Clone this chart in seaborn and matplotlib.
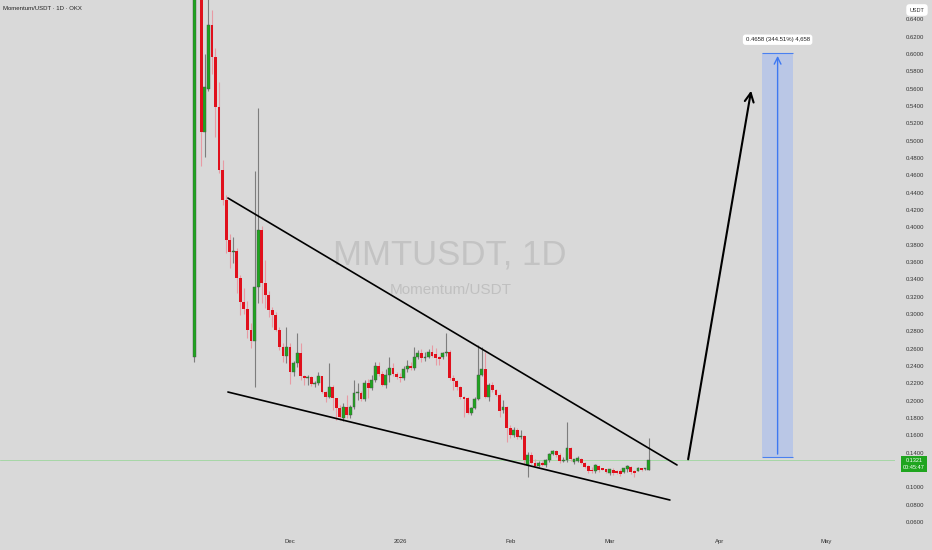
import pandas as pd
import matplotlib
matplotlib.use('Agg')
import matplotlib.pyplot as plt
import matplotlib.dates as mdates
from matplotlib.patches import Rectangle
import seaborn as sns

# daily candles, Nov 4 2025 -> Mar 12 2026 (MMT/USDT, OKX)
opens = [
    0.250, 0.950, 0.780, 0.510, 0.560, 0.634, 0.597, 0.539, 0.466, 0.432, 0.385, 0.371, 0.373, 0.341,
    0.314, 0.306, 0.281, 0.269, 0.331, 0.397, 0.336, 0.322, 0.305, 0.299, 0.281, 0.262, 0.251,
    # dec
    0.262, 0.233, 0.244, 0.255, 0.228, 0.2265, 0.227, 0.219, 0.220, 0.228, 0.2104, 0.2046, 0.2162, 0.2027,
    0.191, 0.180, 0.1927, 0.1835, 0.1927, 0.2085, 0.2092, 0.2016, 0.2207, 0.2143, 0.2239, 0.240, 0.2308,
    0.2181, 0.2296, 0.2374, 0.2308,
    # jan
    0.2277, 0.2262, 0.2362, 0.240, 0.2373, 0.250, 0.2554, 0.2489, 0.2508, 0.2565, 0.254, 0.250, 0.250,
    0.2546, 0.2565, 0.2258, 0.2224, 0.2161, 0.2039, 0.2027, 0.1854, 0.1912, 0.2016, 0.2296, 0.2362,
    0.2039, 0.2181, 0.2123, 0.2066, 0.1895, 0.193,
    # feb
    0.1681, 0.1604, 0.1662, 0.1577, 0.1592, 0.1258, 0.1373, 0.1277, 0.1246, 0.1277, 0.1262, 0.1315,
    0.1385, 0.1423, 0.1373, 0.1304, 0.1315, 0.145, 0.129, 0.1304, 0.1324, 0.1284, 0.1246, 0.120, 0.1192,
    0.1246, 0.1219, 0.1208,
    # mar
    0.1169, 0.120, 0.1192, 0.1192, 0.1181, 0.1208, 0.1235, 0.1192, 0.1192, 0.1219, 0.1208, 0.120,
]
highs = [
    1.050, 1.200, 0.820, 0.600, 0.680, 0.651, 0.607, 0.568, 0.478, 0.437, 0.392, 0.389, 0.376, 0.345,
    0.330, 0.315, 0.290, 0.465, 0.538, 0.402, 0.362, 0.327, 0.308, 0.302, 0.285, 0.267, 0.285,
    0.266, 0.246, 0.278, 0.266, 0.230, 0.230, 0.229, 0.223, 0.2335, 0.229, 0.2115, 0.244, 0.218, 0.2035,
    0.195, 0.197, 0.2065, 0.195, 0.224, 0.220, 0.2116, 0.224, 0.225, 0.2296, 0.245, 0.245, 0.2339,
    0.237, 0.250, 0.243, 0.2335,
    0.232, 0.240, 0.2469, 0.245, 0.2623, 0.2585, 0.260, 0.2565, 0.260, 0.2642, 0.2612, 0.252, 0.256,
    0.2777, 0.258, 0.2296, 0.224, 0.217, 0.205, 0.204, 0.193, 0.204, 0.2642, 0.2623,
    0.2565, 0.220, 0.2219, 0.213, 0.2092, 0.2008, 0.194,
    0.172, 0.170, 0.168, 0.1662, 0.160, 0.1411, 0.1411, 0.1331, 0.130, 0.130, 0.133, 0.1393,
    0.1431, 0.1431, 0.1393, 0.135, 0.1758, 0.146, 0.133, 0.136, 0.1342, 0.129, 0.1258, 0.123, 0.1265,
    0.1258, 0.1225, 0.1215,
    0.1215, 0.1219, 0.1195, 0.121, 0.1225, 0.1258, 0.125, 0.1195, 0.1231, 0.1225, 0.1225, 0.1566,
]
lows = [
    0.245, 0.720, 0.471, 0.481, 0.557, 0.577, 0.504, 0.463, 0.426, 0.370, 0.353, 0.359, 0.324, 0.299,
    0.300, 0.272, 0.261, 0.216, 0.313, 0.313, 0.307, 0.297, 0.285, 0.280, 0.259, 0.245, 0.244,
    0.219, 0.229, 0.239, 0.224, 0.218, 0.218, 0.217, 0.216, 0.218, 0.2085, 0.198, 0.203, 0.189, 0.178,
    0.178, 0.176, 0.180, 0.180, 0.190, 0.2008, 0.200, 0.200, 0.203, 0.2123, 0.2216, 0.229, 0.2165,
    0.215, 0.2216, 0.228, 0.225,
    0.2215, 0.2239, 0.2335, 0.235, 0.235, 0.248, 0.245, 0.246, 0.249, 0.250, 0.2411, 0.2411, 0.248,
    0.252, 0.224, 0.2123, 0.2123, 0.202, 0.1815, 0.185, 0.1835, 0.190, 0.2008, 0.2285,
    0.2027, 0.200, 0.210, 0.205, 0.1815, 0.1854, 0.1527,
    0.1575, 0.1584, 0.156, 0.156, 0.1258, 0.1123, 0.127, 0.1231, 0.123, 0.1246, 0.123, 0.1296,
    0.1373, 0.1354, 0.1285, 0.129, 0.1296, 0.1308, 0.1265, 0.129, 0.127, 0.122, 0.1162, 0.117, 0.117,
    0.1181, 0.1195, 0.117,
    0.1142, 0.1142, 0.1158, 0.1131, 0.117, 0.1181, 0.1154, 0.1123, 0.1185, 0.119, 0.120, 0.1195,
]
closes = [
    0.950, 0.780, 0.510, 0.562, 0.634, 0.597, 0.539, 0.466, 0.432, 0.385, 0.372, 0.373, 0.341, 0.314,
    0.306, 0.281, 0.269, 0.331, 0.397, 0.336, 0.322, 0.305, 0.299, 0.281, 0.262, 0.251, 0.262,
    0.233, 0.244, 0.255, 0.228, 0.2265, 0.227, 0.219, 0.220, 0.228, 0.2104, 0.2046, 0.2162, 0.2027, 0.191,
    0.181, 0.1927, 0.1835, 0.1927, 0.2085, 0.2092, 0.2016, 0.2207, 0.2143, 0.2239, 0.240, 0.2308, 0.2181,
    0.2296, 0.2374, 0.2308, 0.2277,
    0.2262, 0.2362, 0.240, 0.2373, 0.250, 0.2554, 0.2489, 0.2508, 0.2565, 0.2515, 0.2489, 0.248, 0.2546,
    0.2565, 0.2258, 0.2224, 0.2161, 0.2039, 0.2025, 0.1861, 0.1912, 0.2016, 0.2296, 0.2362,
    0.2039, 0.2181, 0.2123, 0.2066, 0.1884, 0.193, 0.1681,
    0.1604, 0.1662, 0.1577, 0.1584, 0.1315, 0.1373, 0.1277, 0.1246, 0.1277, 0.1262, 0.1315, 0.1385,
    0.1423, 0.1373, 0.1304, 0.131, 0.145, 0.1324, 0.1323, 0.1335, 0.1284, 0.1231, 0.1192, 0.1192, 0.1258,
    0.120, 0.120, 0.1181,
    0.1208, 0.1169, 0.1162, 0.1154, 0.1219, 0.1246, 0.1181, 0.1169, 0.1219, 0.120, 0.1219, 0.1321,
]

price_ticks = [0.06, 0.08, 0.10, 0.14, 0.16, 0.18, 0.20, 0.22, 0.24, 0.26, 0.28, 0.30, 0.32, 0.34,
               0.36, 0.38, 0.40, 0.42, 0.44, 0.46, 0.48, 0.50, 0.52, 0.54, 0.56, 0.58, 0.60, 0.62, 0.64]
date_ticks = ['2025-12-01', '2026-01-01', '2026-02-01', '2026-03-01', '2026-04-01', '2026-05-01']
date_labels = ['Dec', '2026', 'Feb', 'Mar', 'Apr', 'May']

last_price = 0.1321
# drawings on the chart: wedge lines, projection arrow, target box
upper_line = (['2025-11-13 12:00', '2026-03-20 00:00'], [0.4338, 0.1258])
lower_line = (['2025-11-13 12:00', '2026-03-18 00:00'], [0.2100, 0.0854])
arrow_pts = (['2026-03-23 00:00', '2026-04-10 00:00'], [0.1292, 0.5608])
target_dates = ['2026-04-13 00:00', '2026-04-21 16:00']
target_low, target_high = 0.1352, 0.6010


def to_num(strings):
    return mdates.date2num(pd.to_datetime(strings, format='%Y-%m-%d %H:%M'))


sns.set_style('white')
plt.rcParams['font.family'] = ['Liberation Sans', 'DejaVu Sans']

BG = '#d9d9d9'
fig = plt.figure(figsize=(9.32, 5.5), dpi=100, facecolor=BG)
ax = fig.add_axes([0, 20 / 550, 895 / 932, 530 / 550], facecolor=BG)

df = pd.DataFrame({'date': pd.date_range('2025-11-04', periods=len(opens), freq='D'),
                   'open': opens, 'high': highs, 'low': lows, 'close': closes})
df['x'] = mdates.date2num(df['date'])
df['up'] = df['close'] >= df['open']
df['bottom'] = df[['open', 'close']].min(axis=1)
df['height'] = (df['close'] - df['open']).abs().clip(lower=0.001)

up = df[df['up']]
dn = df[~df['up']]
ax.vlines(up['x'], up['low'], up['high'], color='#7d7d7d', lw=0.8, zorder=2)
ax.vlines(dn['x'], dn['low'], dn['high'], color='#e89aa3', lw=0.8, zorder=2)
ax.bar(up['x'], up['height'], bottom=up['bottom'], width=0.8, color='#1fa51f',
       edgecolor='#4d4d4d', linewidth=0.3, zorder=3)
ax.bar(dn['x'], dn['height'], bottom=dn['bottom'], width=0.8, color='#e0101c',
       linewidth=0, zorder=3)

ax.axhline(last_price, color='#a6d6a6', lw=0.7, zorder=1)

# wedge trendlines
lines = pd.DataFrame({
    'x': list(to_num(upper_line[0])) + list(to_num(lower_line[0])),
    'y': upper_line[1] + lower_line[1],
    'line': ['upper', 'upper', 'lower', 'lower'],
})
sns.lineplot(data=lines, x='x', y='y', units='line', estimator=None, sort=False,
             color='black', lw=1.2, ax=ax, legend=False, zorder=4)

arr_x = to_num(arrow_pts[0])
ax.annotate('', xy=(arr_x[1], arrow_pts[1][1]), xytext=(arr_x[0], arrow_pts[1][0]),
            arrowprops=dict(arrowstyle='->', lw=1.5, color='black', mutation_scale=16), zorder=4)

# target measurement
tx = to_num(target_dates)
ax.add_patch(Rectangle((tx[0], target_low), tx[1] - tx[0], target_high - target_low,
                       facecolor='#bac7e6', edgecolor='none', zorder=1))
ax.hlines([target_low, target_high], tx[0], tx[1], color='#4a80f0', lw=0.8, zorder=2)
mid = (tx[0] + tx[1]) / 2
ax.annotate('', xy=(mid, target_high), xytext=(mid, target_low),
            arrowprops=dict(arrowstyle='->', lw=1.0, color='#3d78f2', mutation_scale=12), zorder=2)
ax.text(mid, 0.6165, '0.4658 (344.51%) 4,658', ha='center', va='center', fontsize=4.3,
        color='#222222', bbox=dict(boxstyle='round,pad=0.45', fc='white', ec='none'), zorder=5)

# watermark
ax.text(0.503, 0.519, 'MMTUSDT, 1D', transform=ax.transAxes, ha='center', va='center',
        fontsize=25, color='#c3c3c3', zorder=0)
ax.text(0.504, 0.453, 'Momentum/USDT', transform=ax.transAxes, ha='center', va='center',
        fontsize=11, color='#c0c0c0', zorder=0)

x0 = mdates.date2num(pd.Timestamp('2025-12-01'))
ax.set_xlim(x0 - 81.7, x0 + 170.4)
ax.set_ylim(0.0508, 0.6623)

ax.yaxis.tick_right()
ax.set_yticks(price_ticks)
ax.set_yticklabels([f'{v:.4f}' for v in price_ticks])
ax.tick_params(axis='y', length=0, pad=8, labelsize=4.3, labelcolor='#333333')
ax.set_xticks(mdates.date2num(pd.to_datetime(date_ticks)))
ax.set_xticklabels(date_labels)
ax.tick_params(axis='x', length=0, pad=6.5, labelsize=4.3, labelcolor='#333333')
ax.set_xlabel('')
ax.set_ylabel('')
for s in ax.spines.values():
    s.set_visible(False)
ax.grid(False)

fig.text(3 / 932, 1 - 8 / 550, 'Momentum/USDT · 1D · OKX', ha='left', va='center',
         fontsize=4.3, color='#222222')
fig.text(917 / 932, 1 - 10 / 550, 'USDT', ha='center', va='center', fontsize=4,
         color='#333333', bbox=dict(boxstyle='round,pad=0.6', fc='white', ec='none'))
fig.text(914 / 932, 1 - 464 / 550, f'{last_price:.4f}\n00:45:47', ha='center', va='center',
         fontsize=4, color='white', linespacing=1.3,
         bbox=dict(boxstyle='square,pad=0.35', fc='#1fa51f', ec='none'))

fig.savefig('out.png', dpi=100, facecolor=BG)
